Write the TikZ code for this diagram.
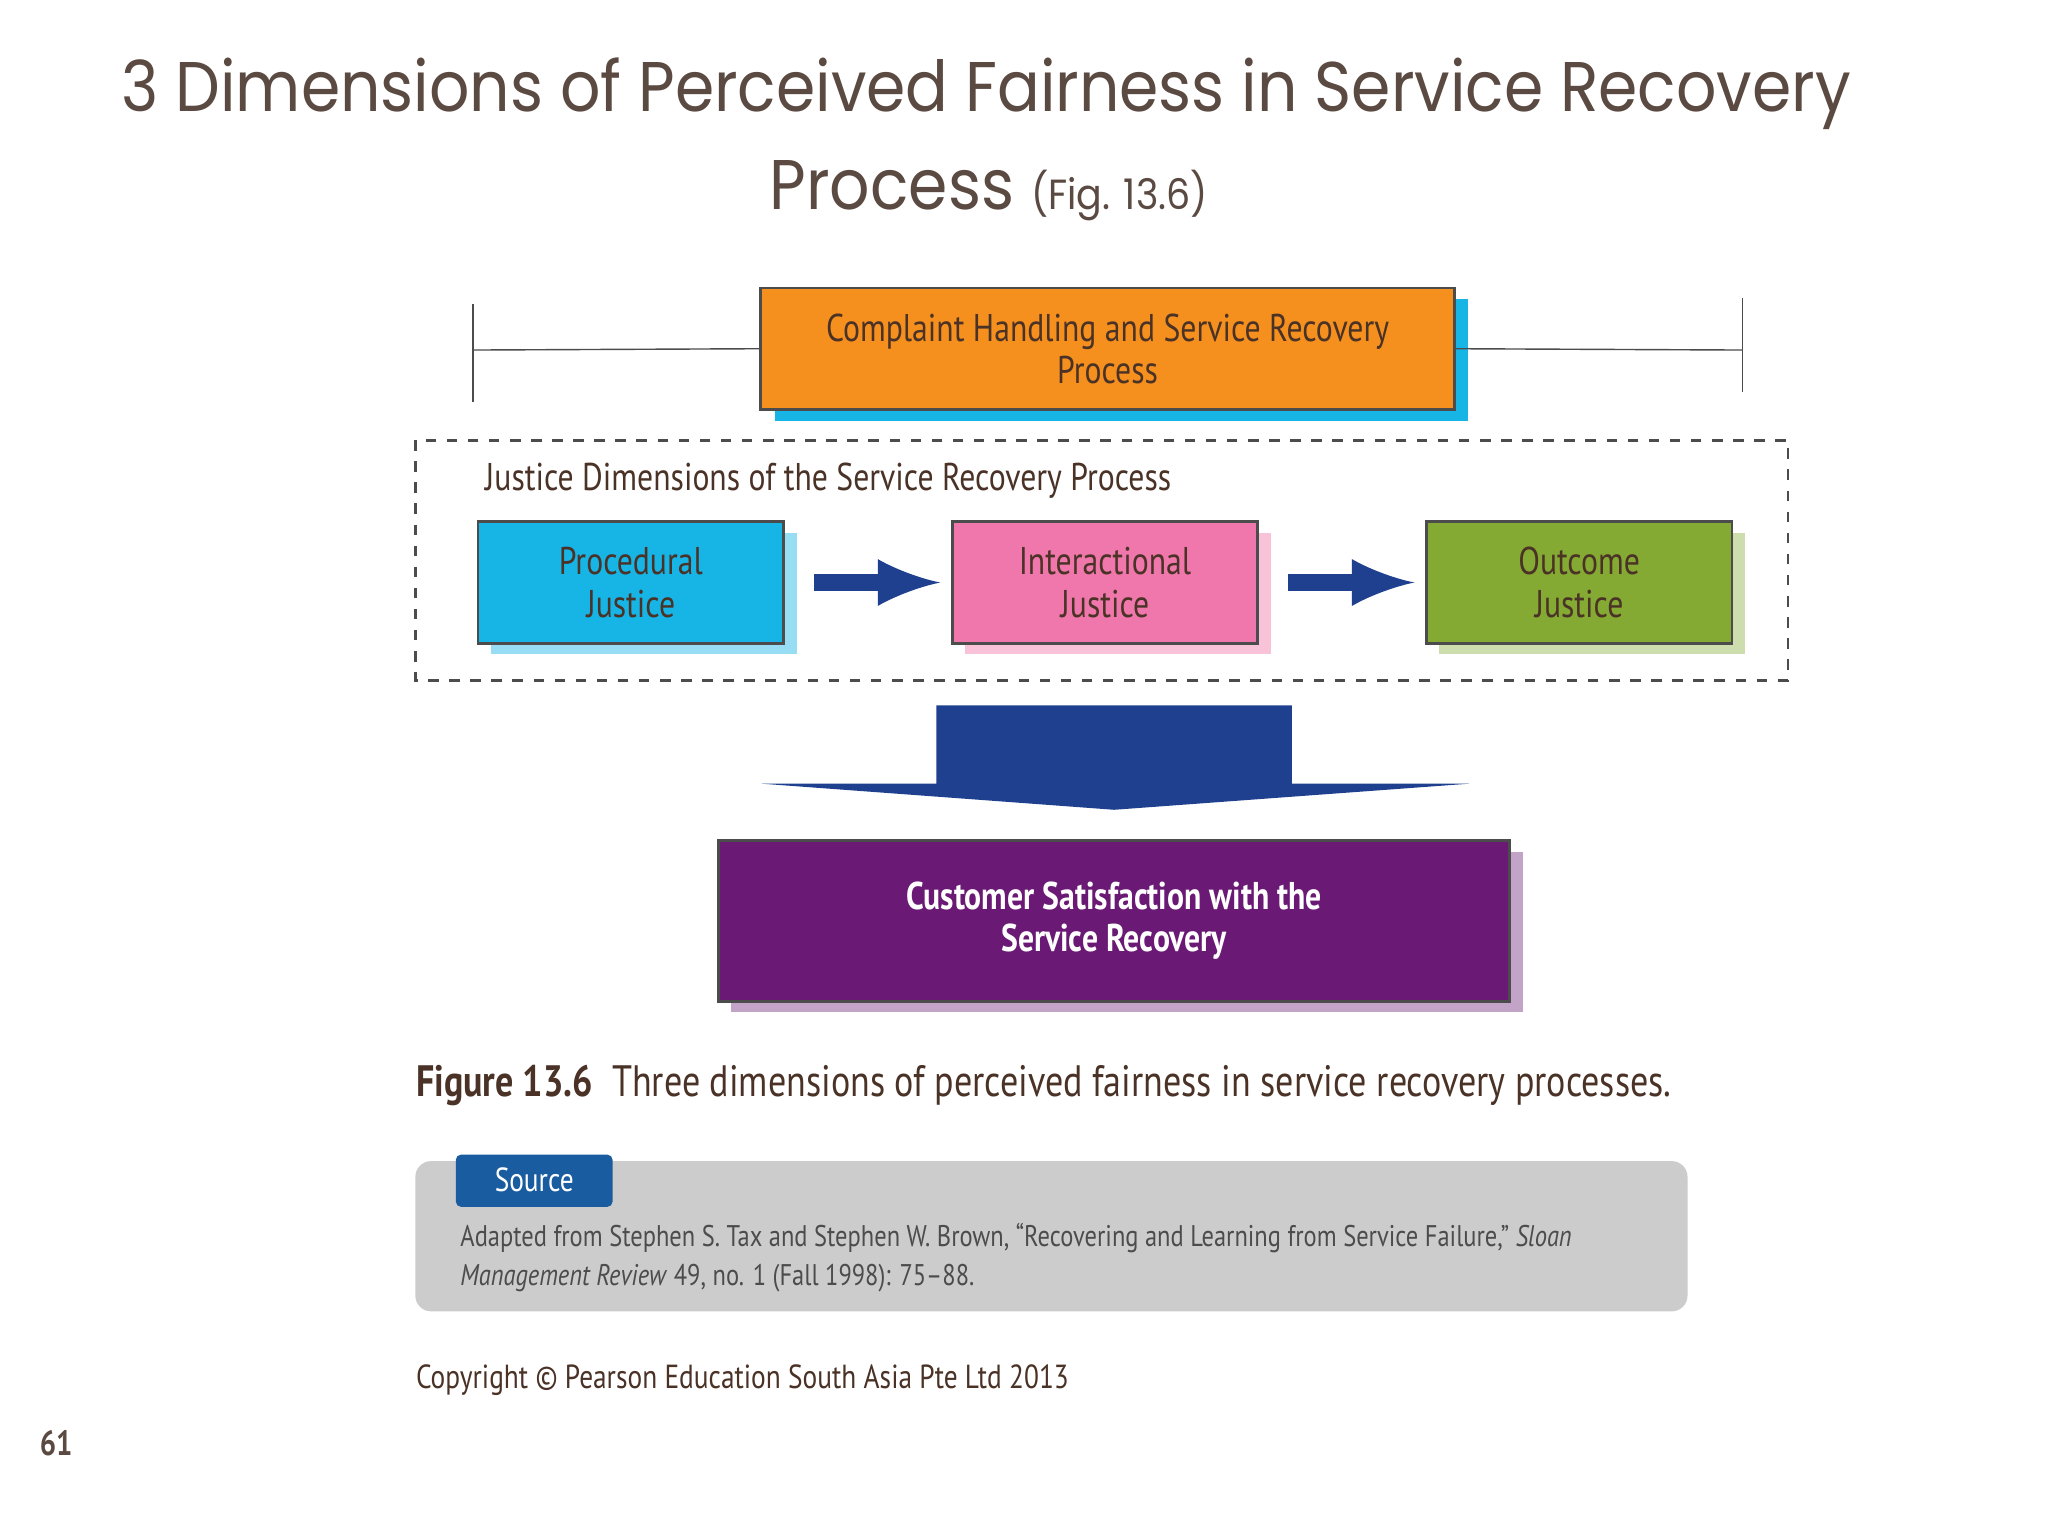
\documentclass[tikz,border=0pt]{standalone}
\usepackage{fontspec}
\setmainfont{PT Sans}[FakeStretch=0.82]
\newfontfamily\titlefont{Poppins}[FakeStretch=0.9]
\usetikzlibrary{positioning,shadows}
\definecolor{titlebrown}{HTML}{5A4A42}
\definecolor{textbrown}{HTML}{4A3226}
\definecolor{navy}{HTML}{1F3F8F}
\definecolor{orangebox}{HTML}{F5901F}
\definecolor{cyanbox}{HTML}{17B5E6}
\definecolor{pinkbox}{HTML}{EF77AB}
\definecolor{greenbox}{HTML}{84AA33}
\definecolor{purplebox}{HTML}{6A1A74}
\begin{document}
\begin{tikzpicture}[x=0.01306cm,y=-0.01306cm,
	box/.style={draw=black!70,thick,inner sep=0pt,align=center,font=\fontsize{11}{12}\selectfont,text=textbrown},
	>=latex]
	
	\useasboundingbox (0,0) rectangle (1568,1176);
	\fill[white] (0,0) rectangle (1568,1176);
	
	%---------------------------------------------
	
	\node[font=\titlefont\fontsize{20}{24}\selectfont,text=titlebrown] (title1) at (755,72) {3 Dimensions of Perceived Fairness in Service Recovery};
	\node[font=\titlefont\fontsize{20}{24}\selectfont,text=titlebrown] (title2) at (757,146) {Process {\fontsize{12}{14}\selectfont(Fig. 13.6)}};
	
	%---------------------------------------------
	
	\fill[cyanbox] (593,229) rectangle (1124,322);
	\node[box,fill=orangebox,minimum width=531*0.01306cm,minimum height=93*0.01306cm] (chp) at (848,267) {Complaint Handling and Service Recovery\\Process};
	\coordinate (lend) at (362,268);
	\coordinate (rend) at (1334,268);
	\draw[black!70] (chp.west) -- (lend) (chp.east) -- (rend);
	\draw[black!70] (362,233) -- (362,308) (1334,228) -- (1334,300);
	
	%---------------------------------------------
	
	\draw[black!70,dashed,thick] (318,337) rectangle (1369,521);
	\node[anchor=west,font=\fontsize{11}{12}\selectfont,text=textbrown] (jlabel) at (362,368) {Justice Dimensions of the Service Recovery Process};
	
	\fill[cyanbox!45] (376,408) rectangle (610,501);
	\fill[pinkbox!45] (739,408) rectangle (973,501);
	\fill[greenbox!40] (1102,408) rectangle (1336,501);
	\node[box,fill=cyanbox,minimum width=234*0.01306cm,minimum height=93*0.01306cm] (proc) at (483,446) {Procedural\\Justice};
	\node[box,fill=pinkbox,minimum width=234*0.01306cm,minimum height=93*0.01306cm] (inter) at (846,446) {Interactional\\Justice};
	\node[box,fill=greenbox,minimum width=234*0.01306cm,minimum height=93*0.01306cm] (outc) at (1209,446) {Outcome\\Justice};
	
	\draw[->,navy,line width=5pt,shorten <=22*0.01306cm,shorten >=8*0.01306cm] (proc.east) -- (inter.west);
	\draw[->,navy,line width=5pt,shorten <=22*0.01306cm,shorten >=8*0.01306cm] (inter.east) -- (outc.west);
	
	%---------------------------------------------
	
	\fill[navy] (717,540) -- (989,540) -- (989,600) -- (1125,600) -- (853,620) -- (583,600) -- (717,600) -- cycle;
	
	\fill[purplebox!40] (560,652) rectangle (1166,775);
	\node[box,fill=purplebox,text=white,font=\bfseries\fontsize{11}{12}\selectfont,minimum width=606*0.01306cm,minimum height=123*0.01306cm] (csat) at (853,705) {Customer Satisfaction with the\\Service Recovery};
	
	%---------------------------------------------
	
	\node[anchor=west,inner sep=0pt,font=\fontsize{12.5}{14}\selectfont,text=textbrown] (caption) at (318,831) {\textbf{Figure 13.6}\ \ Three dimensions of perceived fairness in service recovery processes.};
	
	\fill[black!20,rounded corners=12*0.01306cm] (318,889) rectangle (1292,1004);
	\fill[navy!85!cyan,rounded corners=4*0.01306cm] (349,884) rectangle (469,924);
	\node[text=white,font=\fontsize{9.5}{11}\selectfont] (srctab) at (409,903) {\textsc{Source}};
	\node[anchor=north west,inner sep=0pt,align=left,font=\fontsize{8.5}{11}\selectfont,text=black!70] (srctext) at (352,936) {Adapted from Stephen S. Tax and Stephen W. Brown, “Recovering and Learning from Service Failure,” \textit{Sloan}\\\textit{Management Review} 49, no. 1 (Fall 1998): 75–88.};
	
	\node[anchor=west,inner sep=0pt,font=\fontsize{9.5}{11}\selectfont,text=textbrown] (copy) at (318,1057) {Copyright © Pearson Education South Asia Pte Ltd 2013};
	\node[font=\bfseries\fontsize{10}{12}\selectfont,text=titlebrown] (pagenum) at (43,1105) {61};
	
\end{tikzpicture}
\end{document}
